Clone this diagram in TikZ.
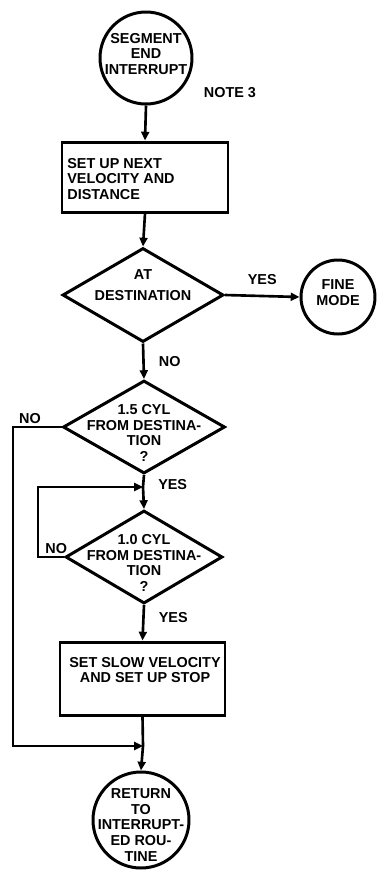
\documentclass[tikz,border=0pt]{standalone}
\usepackage{fontspec}
\setmainfont{Liberation Sans}
\usetikzlibrary{shapes.geometric,arrows.meta}
\begin{document}
\begin{tikzpicture}[x=0.02cm,y=-0.02cm,
  shp/.style={draw,line width=1.7pt,inner sep=0pt},
  term/.style={shp,circle},
  proc/.style={shp,rectangle},
  dec/.style={shp,diamond},
  txt/.style={font=\fontsize{8.2}{9}\selectfont\bfseries,align=center,inner sep=0pt},
  lbl/.style={font=\fontsize{8.2}{9}\selectfont\bfseries,inner sep=0pt},
  conn/.style={line width=1.5pt},
  arr/.style={conn,-{Triangle[length=5pt,width=4.5pt]}}]
\useasboundingbox (0,0) rectangle (377,870);
% shapes
\node[term,minimum size=92*0.02cm] (start) at (146,58) {};
\node[proc,minimum width=166*0.02cm,minimum height=70*0.02cm] (box1) at (145,177) {};
\node[dec,minimum width=161*0.02cm,minimum height=94*0.02cm] (d1) at (143,295) {};
\node[term,minimum size=74*0.02cm] (fine) at (338,297) {};
\node[dec,minimum width=162*0.02cm,minimum height=93*0.02cm] (d2) at (144,427) {};
\node[dec,minimum width=157*0.02cm,minimum height=93*0.02cm] (d3) at (144,557) {};
\node[proc,minimum width=165*0.02cm,minimum height=73*0.02cm] (box2) at (142.5,678.5) {};
\node[term,minimum size=96*0.02cm] (stop) at (141,820) {};
% texts
\node[txt] (tstart) at (146,54) {SEGMENT\\END\\INTERRUPT};
\node[lbl] (note) at (230,93) {NOTE 3};
\node[txt,align=left,anchor=west] (tbox1) at (67,179) {SET UP NEXT\\VELOCITY AND\\DISTANCE};
\node[txt] (td1) at (143,285) {AT\\[3pt]DESTINATION};
\node[txt] (tfine) at (338,293) {FINE\\MODE};
\node[txt] (td2) at (144,433) {1.5 CYL\\FROM DESTINA-\\TION\\?};
\node[txt] (td3) at (144,563) {1.0 CYL\\FROM DESTINA-\\TION\\?};
\node[txt] (tbox2) at (145,670) {SET SLOW VELOCITY\\AND SET UP STOP};
\node[txt] (tstop) at (141,825) {RETURN\\TO\\INTERRUPT-\\ED ROU-\\TINE};
% junctions
\coordinate (k) at (143,487);
\coordinate (j) at (143,746);
% connectors
\draw[arr] (start.south) -- (box1.north);
\draw[arr] (box1.south) -- (d1.north);
\draw[arr] (d1.east) -- node[lbl,above=6pt] (yes1) {YES} (fine.west);
\draw[arr] (d1.south) -- node[lbl,right=8pt] (no1) {NO} (d2.north);
\draw[conn] (d2.south) -- (k);
\draw[arr] (k) -- node[lbl,right=8pt,pos=-0.1] (yes2) {YES} (d3.north);
\draw[arr] (d2.west) -- node[lbl,above=1pt,pos=0.65] (no2) {NO} (13,427) -- (13,746) -- (j);
\draw[arr] (d3.west) -- node[lbl,above=1pt,pos=0.3] (no3) {NO} (38,557) -- (38,487) -- (k);
\draw[arr] (d3.south) -- node[lbl,right=8pt,pos=0.35] (yes3) {YES} (box2.north);
\draw[conn] (box2.south) -- (j);
\draw[arr] (j) -- (stop.north);
\end{tikzpicture}
\end{document}
